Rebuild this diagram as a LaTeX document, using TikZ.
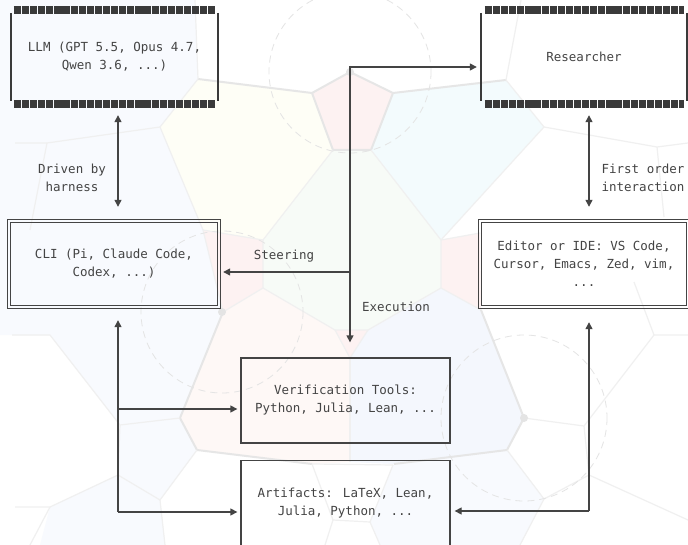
\documentclass[tikz,border=0pt]{standalone}
\usepackage{fontspec}
\newfontfamily\monofont{DejaVu Sans Mono}
\usetikzlibrary{arrows.meta,calc}
\definecolor{ink}{HTML}{444444}
\definecolor{barc}{HTML}{3A3A3A}
\definecolor{vline}{HTML}{E6E6E6}
\definecolor{vthin}{HTML}{F0F0F0}
\definecolor{cpink}{HTML}{FDF2F2}
\definecolor{cpeach}{HTML}{FEF8F6}
\definecolor{cgreen}{HTML}{F7FBF7}
\definecolor{cyell}{HTML}{FEFEF6}
\definecolor{ccyan}{HTML}{F3FBFD}
\definecolor{cblue}{HTML}{F4F7FD}
\definecolor{cblue2}{HTML}{F8FAFE}
\definecolor{dotc}{HTML}{E4E4E4}
\begin{document}
\begin{tikzpicture}[x=1pt,y=-1pt,
  txt/.style={font=\monofont\fontsize{12.5}{18}\selectfont, text=ink, align=center, inner sep=0pt},
  boxnode/.style={txt, minimum width=#1, minimum height=86pt},
  bars/.style={draw=barc, line width=8pt, dash pattern=on 7.2pt off 0.9pt},
  sides/.style={draw=barc, line width=2pt},
  frame/.style={draw=ink, line width=1.1pt},
  arr/.style={draw=ink, line width=1.3pt, -{Triangle[width=7pt,length=7pt]}},
  arr2/.style={draw=ink, line width=1.3pt, {Triangle[width=7pt,length=7pt]}-{Triangle[width=7pt,length=7pt]}},
  vl/.style={draw=vline, line width=2pt, line join=round},
  vt/.style={draw=vthin, line width=1.2pt, line join=round},
  dcirc/.style={draw=dotc, line width=0.8pt, dash pattern=on 7pt off 5pt},
]
\useasboundingbox (0,0) rectangle (688,545);
\fill[white] (0,0) rectangle (688,545);

% ---------- background cells ----------
\fill[cblue2] (0,0) -- (195,0) -- (198,79) -- (160,127) -- (203,230) -- (223,312) -- (180,418) -- (120,425) -- (50,335) -- (0,335) -- cycle;
\fill[cyell] (198,79) -- (312,93) -- (333,150) -- (263,240) -- (203,230) -- (160,127) -- cycle;
\fill[cpink] (312,93) -- (350,72) -- (393,93) -- (371,150) -- (333,150) -- cycle;
\fill[ccyan] (393,93) -- (506,80) -- (544,127) -- (441,240) -- (371,150) -- cycle;
\fill[cgreen] (333,150) -- (371,150) -- (441,240) -- (441,288) -- (368,330) -- (335,330) -- (263,288) -- (263,240) -- cycle;
\fill[cpink] (263,240) -- (263,288) -- (223,312) -- (203,230) -- cycle;
\fill[cpink] (441,240) -- (480,233) -- (481,310) -- (441,288) -- cycle;
\fill[cpeach] (223,312) -- (263,288) -- (335,330) -- (350,358) -- (350,462) -- (312,464) -- (197,450) -- (180,418) -- cycle;
\fill[cpink] (335,330) -- (368,330) -- (350,358) -- cycle;
\fill[cblue] (368,330) -- (441,288) -- (481,310) -- (524,418) -- (507,450) -- (394,464) -- (350,462) -- (350,358) -- cycle;
\fill[cblue2] (393,465) -- (507,450) -- (544,499) -- (520,545) -- (380,545) -- (370,522) -- cycle;
\fill[cblue2] (120,425) -- (180,418) -- (197,450) -- (160,500) -- (165,545) -- (40,545) -- (50,507) -- (118,475) -- cycle;

% ---------- background lines ----------
\draw[vl] (198,79) -- (312,93) -- (350,72) -- (393,93) -- (506,80);
\draw[vl] (312,93) -- (333,150) -- (371,150) -- (393,93);
\draw[vt] (333,150) -- (263,240) -- (263,288) -- (335,330) -- (368,330) -- (441,288) -- (441,240) -- (371,150);
\draw[vt] (335,330) -- (350,358) -- (368,330);
\draw[vt] (350,358) -- (350,462);
\draw[vt] (198,79) -- (160,127) -- (203,230) -- (223,312);
\draw[vt] (203,230) -- (263,240);
\draw[vt] (263,288) -- (223,312);
\draw[vt] (441,240) -- (480,233);
\draw[vt] (441,288) -- (481,310);
\draw[vt] (506,80) -- (544,127) -- (441,240);
\draw[vl] (223,312) -- (180,418) -- (197,450) -- (312,464);
\draw[vl] (481,310) -- (524,418) -- (507,450) -- (394,464);
\draw[vt] (312,464) -- (393,465);
\draw[vt] (312,464) -- (333,520) -- (370,522) -- (393,465);
\draw[vt] (333,520) -- (325,545);
\draw[vt] (370,522) -- (380,545);
\draw[vt] (195,0) -- (198,79);
\draw[vt] (506,80) -- (521,0);
\draw[vt] (544,127) -- (657,147) -- (688,143);
\draw[vt] (657,147) -- (664,217);
\draw[vt] (160,127) -- (47,143) -- (15,143);
\draw[vt] (47,143) -- (30,230);
\draw[vt] (180,418) -- (120,425) -- (50,335) -- (12,335);
\draw[vt] (120,425) -- (118,475) -- (50,507) -- (15,507);
\draw[vt] (50,507) -- (30,545);
\draw[vt] (197,450) -- (160,500) -- (165,545);
\draw[vt] (118,475) -- (160,500);
\draw[vt] (524,418) -- (584,426) -- (654,335) -- (688,335);
\draw[vt] (654,335) -- (634,282);
\draw[vt] (584,426) -- (589,475) -- (544,499);
\draw[vt] (507,450) -- (544,499) -- (520,545);
\draw[vt] (589,475) -- (688,520);

% dashed circles and dots
\draw[dcirc] (350,72) circle[radius=81];
\draw[dcirc] (222,312) circle[radius=81];
\draw[dcirc] (524,418) circle[radius=83];
\fill[dotc] (350,72) circle[radius=4];
\fill[dotc] (222,312) circle[radius=4];
\fill[dotc] (524,418) circle[radius=4];

% ---------- boxes ----------
\node[boxnode=207pt] (llm) at (114.5,57) {LLM (GPT 5.5, Opus 4.7,\\Qwen 3.6, ...)};
\draw[bars] ([xshift=3pt,yshift=4pt]llm.north west) -- ([xshift=-3pt,yshift=4pt]llm.north east);
\draw[bars] ([xshift=3pt,yshift=-4pt]llm.south west) -- ([xshift=-3pt,yshift=-4pt]llm.south east);
\draw[sides] ([yshift=1pt]llm.north west) -- ([yshift=-1pt]llm.south west);
\draw[sides] ([yshift=1pt]llm.north east) -- ([yshift=-1pt]llm.south east);

\node[boxnode=206pt] (res) at (584,57) {Researcher};
\draw[bars] ([xshift=4pt,yshift=4pt]res.north west) -- ([xshift=-3pt,yshift=4pt]res.north east);
\draw[bars] ([xshift=4pt,yshift=-4pt]res.south west) -- ([xshift=-3pt,yshift=-4pt]res.south east);
\draw[sides] ([yshift=1pt]res.north west) -- ([yshift=-1pt]res.south west);
\draw[sides] ([yshift=1pt]res.north east) -- ([yshift=-1pt]res.south east);

\node[boxnode=212pt, minimum height=88pt] (cli) at (114,264) {CLI (Pi, Claude Code,\\Codex, ...)};
\draw[frame] (cli.north west) rectangle (cli.south east);
\draw[frame] ([xshift=3pt,yshift=-3pt]cli.north west) rectangle ([xshift=-3pt,yshift=3pt]cli.south east);
\node[boxnode=210pt, minimum height=88pt] (ed) at (584,264) {Editor or IDE: VS Code,\\Cursor, Emacs, Zed, vim,\\...};
\draw[frame] (ed.north west) rectangle (ed.south east);
\draw[frame] ([xshift=3pt,yshift=-3pt]ed.north west) rectangle ([xshift=-3pt,yshift=3pt]ed.south east);
\node[boxnode=209pt, minimum height=85pt, draw=ink, line width=1.3pt] (ver) at (345.5,400.5) {Verification Tools:\\Python, Julia, Lean, ...};
\node[boxnode=209pt, minimum height=85pt, draw=ink, line width=1.3pt] (art) at (345.5,503) {Artifacts: LaTeX, Lean,\\Julia, Python, ...};

% ---------- labels ----------
\node[txt] (lab1) at (72,178) {Driven by\\harness};
\node[txt] (lab2) at (643,178) {First order\\interaction};
\node[txt] (lab3) at (284,256) {Steering};
\node[txt] (lab4) at (396,307) {Execution};

% ---------- connectors ----------
\draw[arr2] ([xshift=3.5pt,yshift=-15pt]llm.south) -- ([xshift=4pt,yshift=13pt]cli.north);
\draw[arr2] ([xshift=5pt,yshift=-15pt]res.south) -- ([xshift=5pt,yshift=13pt]ed.north);

\coordinate (hub) at (350,67);
\coordinate (steer) at (350,272);
\draw[arr] (hub) -- ([xshift=-4pt]res.west |- hub);
\draw[arr] ([yshift=1pt]hub) -- ($(hub |- ver.north)+(0,-15)$);
\draw[arr] (steer) -- ([xshift=3pt]cli.east |- steer);

\coordinate (lb) at (118,512);
\coordinate (lm) at (118,409);
\coordinate (rb) at (589,511);
\draw[arr] (lb) -- ($(lb |- cli.south)+(0,12)$);
\draw[arr] (lm) -- ([xshift=-3pt]ver.west |- lm);
\draw[arr] (lb) -- ([xshift=-3pt]art.west |- lb);
\draw[arr] (rb) -- ($(rb |- ed.south)+(0,14)$);
\draw[arr] (rb) -- ([xshift=4pt]art.east |- rb);
\end{tikzpicture}
\end{document}
